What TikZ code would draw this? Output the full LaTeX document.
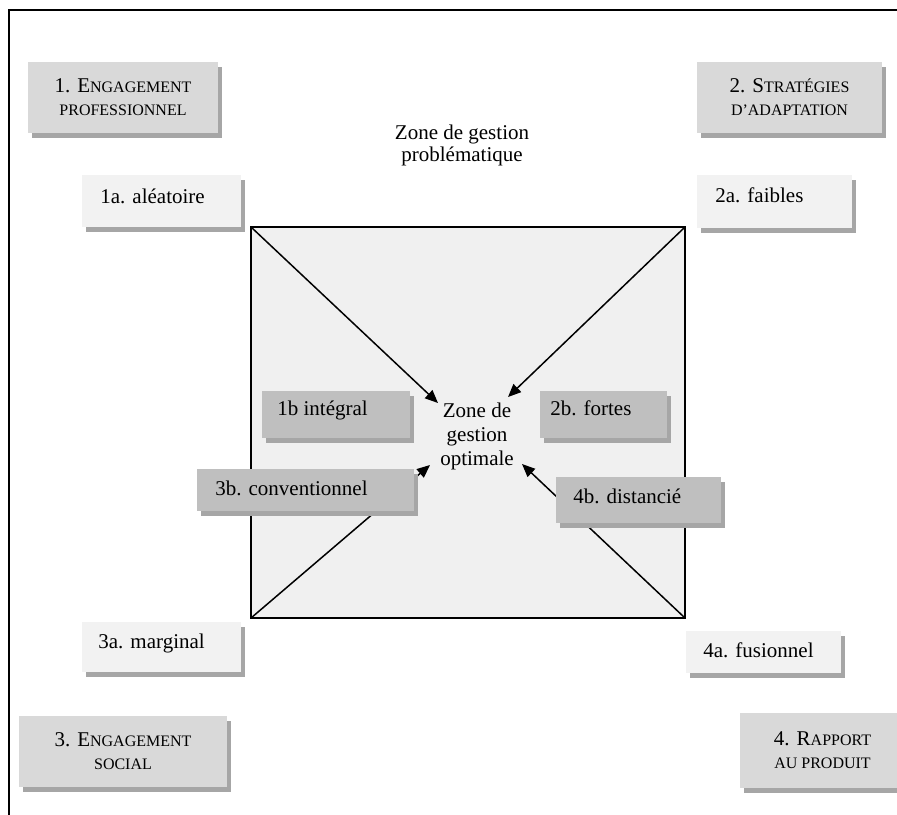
\documentclass[tikz,border=0pt]{standalone}
\usepackage{fontspec}
\setmainfont{Liberation Serif}
\usetikzlibrary{shadows,arrows.meta}
\definecolor{hdrfill}{RGB}{217,217,217}
\definecolor{afill}{RGB}{242,242,242}
\definecolor{bfill}{RGB}{191,191,191}
\definecolor{shadowgray}{RGB}{166,166,166}
\definecolor{sqfill}{RGB}{240,240,240}
\newcommand{\smcp}[1]{{\fontsize{8}{9}\selectfont #1}}
\begin{document}
\begin{tikzpicture}[x=0.5pt,y=-0.5pt,
  boxshadow/.style={drop shadow={shadow xshift=2pt,shadow yshift=-2.5pt,fill=shadowgray,opacity=1}},
  hdr/.style={fill=hdrfill,boxshadow,inner sep=0pt,align=center,font=\fontsize{10.5}{11.5}\selectfont},
  abox/.style={fill=afill,boxshadow,inner sep=0pt},
  bbox/.style={fill=bfill,boxshadow,inner sep=0pt},
  txt/.style={inner sep=0pt,anchor=base west,font=\fontsize{10.5}{12}\selectfont},
  sqbox/.style={draw=black,line width=0.75pt,fill=sqfill,inner sep=0pt,outer sep=0pt},
  arr/.style={line width=0.75pt,-{Triangle[length=6.5pt,width=5.5pt]}},
  frameline/.style={line width=0.7pt}]
\useasboundingbox (0,0) rectangle (897,814);
\clip (0,0) rectangle (897,814);
% outer frame
\coordinate (fbl) at (9,820);
\coordinate (ftl) at (9,10);
\coordinate (ftr) at (905,10);
\draw[frameline] (fbl) -- (ftl) -- (ftr);
% central square
\node[sqbox,minimum width=217pt,minimum height=195.5pt] (sq) at (468,422.5) {};
% centre label
\node[inner sep=0pt,align=center,font=\fontsize{10.5}{12}\selectfont] (opt) at (477,436) {Zone de\\gestion\\optimale};
\coordinate (tipA) at (438,403);
\coordinate (tipB) at (508,397);
\coordinate (tipC) at (430,465);
\coordinate (tipD) at (522,464);
\draw[arr] (sq.north west) -- (tipA);
\draw[arr] (sq.north east) -- (tipB);
\draw[arr] (sq.south west) -- (tipC);
\draw[arr] (sq.south east) -- (tipD);
% top label
\node[inner sep=0pt,align=center,font=\fontsize{10.5}{11}\selectfont] (prob) at (462,145) {Zone de gestion\\problématique};
% header boxes
\node[hdr,minimum width=95pt,minimum height=35.5pt] (h1) at (123,97.5) {1. E\smcp{NGAGEMENT}\\\smcp{PROFESSIONNEL}};
\node[hdr,minimum width=92.5pt,minimum height=35.5pt] (h2) at (789.5,97.5) {2. S\smcp{TRATÉGIES}\\\smcp{D’ADAPTATION}};
\node[hdr,minimum width=104pt,minimum height=35.5pt] (h3) at (123,751.5) {3. E\smcp{NGAGEMENT}\\\smcp{SOCIAL}};
\node[hdr,minimum width=82.5pt,minimum height=37.5pt] (h4) at (822.5,750.5) {4. R\smcp{APPORT}\\\smcp{AU PRODUIT}};
% a boxes
\node[abox,minimum width=79.5pt,minimum height=26pt] (b1a) at (161.5,201) {};
\node[txt] (t1a) at (100,203) {1a. aléatoire};
\node[abox,minimum width=77.5pt,minimum height=26.5pt] (b2a) at (774.5,201.5) {};
\node[txt] (t2a) at (715,202) {2a. faibles};
\node[abox,minimum width=79.5pt,minimum height=25pt] (b3a) at (161.5,647) {};
\node[txt] (t3a) at (98,648) {3a. marginal};
\node[abox,minimum width=77.5pt,minimum height=21pt] (b4a) at (763.5,652) {};
\node[txt] (t4a) at (703,657) {4a. fusionnel};
% b boxes
\node[bbox,minimum width=74pt,minimum height=23.5pt] (b1b) at (336,414.5) {};
\node[txt] (t1b) at (277,415) {1b intégral};
\node[bbox,minimum width=63.5pt,minimum height=23.5pt] (b2b) at (603.5,414.5) {};
\node[txt] (t2b) at (550,415) {2b. fortes};
\node[bbox,minimum width=108.5pt,minimum height=21pt] (b3b) at (305.5,490) {};
\node[txt] (t3b) at (215,495) {3b. conventionnel};
\node[bbox,minimum width=82.5pt,minimum height=23pt] (b4b) at (638.5,500) {};
\node[txt] (t4b) at (573,503) {4b. distancié};
\end{tikzpicture}
\end{document}
